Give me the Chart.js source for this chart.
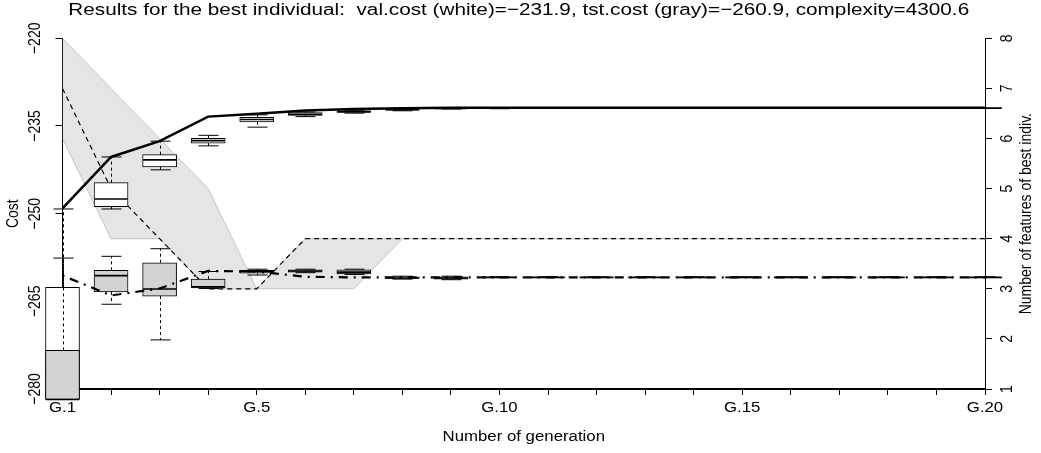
<!DOCTYPE html>
<html>
<head>
<meta charset="utf-8">
<script src="https://cdn.jsdelivr.net/npm/chart.js@4.4.1/dist/chart.umd.min.js"></script>
<style>
  html, body { margin: 0; padding: 0; background: #fff; }
  #wrap { width: 1041px; height: 453px; }
</style>
</head>
<body>
<div id="wrap"><canvas id="gaChart" width="1041" height="453"></canvas></div>
<script>
// generations and which ones get a label
const generations = [1,2,3,4,5,6,7,8,9,10,11,12,13,14,15,16,17,18,19,20];
const labelledGens = [1,5,10,15,20];

// best individual per generation
const bestValCost = [-249.1,-240.3,-237.6,-233.4,-232.9,-232.35,-232.1,-231.95,-231.9,-231.9,-231.9,-231.9,-231.9,-231.9,-231.9,-231.9,-231.9,-231.9,-231.9,-231.9];
const bestTstCost = [-260.6,-264.0,-262.8,-259.8,-259.9,-260.8,-260.9,-260.9,-260.9,-260.9,-260.9,-260.9,-260.9,-260.9,-260.9,-260.9,-260.9,-260.9,-260.9,-260.9];
const bestFeatures = [7,5,4,3,3,4,4,4,4,4,4,4,4,4,4,4,4,4,4,4];

// range of number of features in the elite
const featMax = [8,7,6,5,3,4,4,4,4,4,4,4,4,4,4,4,4,4,4,4];
const featMin = [6,4,4,3,3,3,3,4,4,4,4,4,4,4,4,4,4,4,4,4];

// validation cost boxplots (white)
const valLow  = [-281.8,-249.2,-242.5,-238.4,-235.2,-233.4,-232.8,-232.4,-232.1,-232.05,-232.0,-232.0,-232.0,-232.0,-232.0,-232.0,-232.0,-232.0,-232.0,-232.0];
const valQ1   = [-281.8,-248.8,-242.0,-237.95,-234.3,-233.2,-232.7,-232.3,-232.05,-232.0,-232.0,-232.0,-232.0,-232.0,-232.0,-232.0,-232.0,-232.0,-232.0,-232.0];
const valMed  = [-277.0,-247.5,-240.8,-237.5,-233.9,-233.0,-232.55,-232.2,-232.0,-231.95,-231.95,-231.95,-231.95,-231.95,-231.95,-231.95,-231.95,-231.95,-231.95,-231.95];
const valQ3   = [-262.6,-244.7,-239.9,-237.1,-233.5,-232.7,-232.4,-232.1,-231.95,-231.9,-231.9,-231.9,-231.9,-231.9,-231.9,-231.9,-231.9,-231.9,-231.9,-231.9];
const valHigh = [-249.2,-240.3,-237.6,-236.6,-233.1,-232.6,-232.3,-232.0,-231.9,-231.9,-231.9,-231.9,-231.9,-231.9,-231.9,-231.9,-231.9,-231.9,-231.9,-231.9];

// test cost boxplots (gray)
const tstLow  = [-281.8,-265.5,-271.6,-262.8,-260.5,-260.1,-260.4,-261.2,-261.3,-261.0,-261.0,-261.0,-261.0,-261.0,-261.0,-261.0,-261.0,-261.0,-261.0,-261.0];
const tstQ1   = [-281.8,-263.4,-264.1,-262.7,-260.2,-260.0,-260.3,-261.1,-261.2,-261.0,-261.0,-261.0,-261.0,-261.0,-261.0,-261.0,-261.0,-261.0,-261.0,-261.0];
const tstMed  = [-281.8,-260.6,-262.9,-262.5,-259.9,-259.8,-260.0,-261.0,-261.0,-260.9,-260.9,-260.9,-260.9,-260.9,-260.9,-260.9,-260.9,-260.9,-260.9,-260.9];
const tstQ3   = [-273.4,-259.7,-258.4,-261.2,-259.7,-259.6,-259.6,-260.8,-260.8,-260.85,-260.85,-260.85,-260.85,-260.85,-260.85,-260.85,-260.85,-260.85,-260.85,-260.85];
const tstHigh = [-257.6,-257.3,-256.0,-259.9,-259.5,-259.5,-259.5,-260.7,-260.7,-260.8,-260.8,-260.8,-260.8,-260.8,-260.8,-260.8,-260.8,-260.8,-260.8,-260.8];

const costTicks = [-280,-265,-250,-235,-220];
const featTicks = [1,2,3,4,5,6,7,8];

const titleText = 'Results for the best individual:  val.cost (white)=\u2212231.9, tst.cost (gray)=\u2212260.9, complexity=4300.6';
const FONT = '"Liberation Sans", Arial, Helvetica, sans-serif';
const STRETCH = 1.2; // the original's text is a bit wider than tall

Chart.defaults.font.family = FONT;
Chart.defaults.color = '#000';

function minus(v) {
  return v < 0 ? '\u2212' + Math.abs(v) : String(v);
}

function pts(arr) {
  return generations.map((g, i) => ({ x: g, y: arr[i] }));
}
function boxes(lo, hi) {
  return generations.map((g, i) => ({ x: g, y: [lo[i], hi[i]] }));
}

// whiskers, caps and medians on top of the floating bars
const boxWhiskers = {
  id: 'boxWhiskers',
  afterDatasetDraw(chart, args) {
    const ds = chart.data.datasets[args.index];
    if (!ds.whisk) return;
    const ys = chart.scales.y;
    const ctx = chart.ctx;
    const w = ds.whisk;
    ctx.save();
    ctx.strokeStyle = '#000';
    ctx.lineWidth = 1;
    args.meta.data.forEach((el, i) => {
      const x = Math.round(el.x) + 0.5;
      const half = el.width / 2;
      const pQ1 = ys.getPixelForValue(w.q1[i]);
      const pQ3 = ys.getPixelForValue(w.q3[i]);
      const pLo = ys.getPixelForValue(w.lo[i]);
      const pHi = ys.getPixelForValue(w.hi[i]);
      const pMed = ys.getPixelForValue(w.med[i]);
      ctx.setLineDash([3, 3]);
      ctx.beginPath();
      if (pHi < pQ3) { ctx.moveTo(x, pQ3); ctx.lineTo(x, pHi); }
      if (pLo > pQ1) { ctx.moveTo(x, pQ1); ctx.lineTo(x, pLo); }
      ctx.stroke();
      ctx.setLineDash([]);
      ctx.beginPath();
      if (pHi < pQ3) { ctx.moveTo(x - 10, pHi); ctx.lineTo(x + 10, pHi); }
      if (pLo > pQ1) { ctx.moveTo(x - 10, pLo); ctx.lineTo(x + 10, pLo); }
      ctx.stroke();
      ctx.lineWidth = 1.6;
      ctx.beginPath();
      ctx.moveTo(el.x - half + 0.5, pMed);
      ctx.lineTo(el.x + half - 0.5, pMed);
      ctx.stroke();
      ctx.lineWidth = 1;
    });
    ctx.restore();
  }
};

// all the text: title, x labels, rotated y labels
const rLabels = {
  id: 'rLabels',
  afterDraw(chart) {
    const ctx = chart.ctx;
    const xs = chart.scales.x;
    const yl = chart.scales.y;
    const yr = chart.scales.y2;
    const area = chart.chartArea;
    ctx.save();
    ctx.fillStyle = '#000';
    ctx.textAlign = 'center';
    ctx.textBaseline = 'middle';

    const flat = (x, y, txt) => {
      ctx.save();
      ctx.translate(x, y);
      ctx.scale(STRETCH, 1);
      ctx.fillText(txt, 0, 0);
      ctx.restore();
    };
    const rot = (x, y, txt) => {
      ctx.save();
      ctx.translate(x, y);
      ctx.scale(STRETCH, 1);
      ctx.rotate(-Math.PI / 2);
      ctx.fillText(txt, 0, 0);
      ctx.restore();
    };

    ctx.font = '17.3px ' + FONT;
    flat((area.left + area.right) / 2 - 5, 10, titleText);

    ctx.font = '14px ' + FONT;
    labelledGens.forEach(g => flat(xs.getPixelForValue(g), 408, 'G.' + g));
    flat((area.left + area.right) / 2, 437, 'Number of generation');

    costTicks.forEach(v => rot(35, yl.getPixelForValue(v), minus(v)));
    featTicks.forEach(v => rot(1007, yr.getPixelForValue(v), String(v)));
    const midY = (area.top + area.bottom) / 2;
    rot(13, midY, 'Cost');
    rot(1026, midY, 'Number of features of best indiv.');
    ctx.restore();
  }
};

new Chart(document.getElementById('gaChart'), {
  type: 'line',
  data: {
    datasets: [
      {
        label: 'features max',
        data: pts(featMax),
        yAxisID: 'y2',
        borderColor: '#c6c6c6',
        borderWidth: 1,
        backgroundColor: '#e5e5e5',
        fill: '+1',
        pointRadius: 0,
        tension: 0,
        order: 10
      },
      {
        label: 'features min',
        data: pts(featMin),
        yAxisID: 'y2',
        borderColor: '#c6c6c6',
        borderWidth: 1,
        fill: false,
        pointRadius: 0,
        tension: 0,
        order: 9
      },
      {
        label: 'features best',
        data: pts(bestFeatures),
        yAxisID: 'y2',
        borderColor: '#000',
        borderWidth: 1.2,
        borderDash: [5, 4],
        fill: false,
        pointRadius: 0,
        tension: 0,
        order: 8
      },
      {
        type: 'bar',
        label: 'val.cost',
        data: boxes(valQ1, valQ3),
        whisk: { lo: valLow, q1: valQ1, med: valMed, q3: valQ3, hi: valHigh },
        yAxisID: 'y',
        backgroundColor: '#ffffff',
        borderColor: '#000',
        borderWidth: 1,
        borderSkipped: false,
        barThickness: 34,
        grouped: false,
        clip: false,
        order: 7
      },
      {
        type: 'bar',
        label: 'tst.cost',
        data: boxes(tstQ1, tstQ3),
        whisk: { lo: tstLow, q1: tstQ1, med: tstMed, q3: tstQ3, hi: tstHigh },
        yAxisID: 'y',
        backgroundColor: '#d3d3d3',
        borderColor: '#000',
        borderWidth: 1,
        borderSkipped: false,
        barThickness: 34,
        grouped: false,
        clip: false,
        order: 6
      },
      {
        label: 'best val.cost',
        data: pts(bestValCost),
        yAxisID: 'y',
        borderColor: '#000',
        borderWidth: 2.5,
        fill: false,
        pointRadius: 0,
        tension: 0,
        order: 2
      },
      {
        label: 'best tst.cost',
        data: pts(bestTstCost),
        yAxisID: 'y',
        borderColor: '#000',
        borderWidth: 2.2,
        borderDash: [2, 6, 9, 6],
        fill: false,
        pointRadius: 0,
        tension: 0,
        order: 1
      }
    ]
  },
  options: {
    responsive: false,
    animation: false,
    events: [],
    layout: { padding: { top: 38.3, left: 0, right: 0, bottom: 0 } },
    plugins: {
      legend: { display: false },
      tooltip: { enabled: false },
      title: { display: false }
    },
    scales: {
      x: {
        type: 'linear',
        min: 1,
        max: 20,
        offset: false,
        ticks: { stepSize: 1, autoSkip: false, display: false },
        grid: { drawOnChartArea: false, offset: false, tickLength: 6, tickColor: '#000' },
        border: { display: true, color: '#000', width: 2 },
        afterFit: s => { s.height = 64; }
      },
      y: {
        type: 'linear',
        position: 'left',
        min: -280,
        max: -220,
        ticks: { stepSize: 15, display: false },
        grid: { drawOnChartArea: false, tickLength: 7, tickColor: '#000' },
        border: { display: true, color: '#000', width: 1 },
        afterFit: s => { s.width = 62.5; }
      },
      y2: {
        type: 'linear',
        position: 'right',
        min: 1,
        max: 8,
        ticks: { stepSize: 1, display: false },
        grid: { drawOnChartArea: false, tickLength: 7, tickColor: '#000' },
        border: { display: true, color: '#000', width: 1 },
        afterFit: s => { s.width = 56; }
      }
    }
  },
  plugins: [boxWhiskers, rLabels]
});
</script>
</body>
</html>
